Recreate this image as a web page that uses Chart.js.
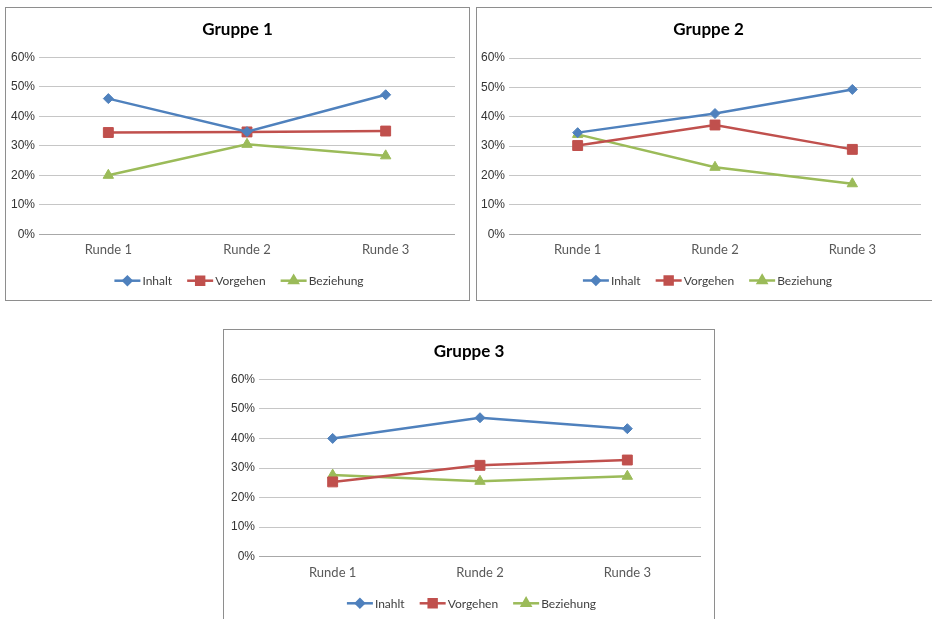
<!DOCTYPE html>
<html>
<head>
<meta charset="utf-8">
<script src="https://cdn.jsdelivr.net/npm/chart.js@4.4.1/dist/chart.umd.min.js"></script>
<style>
  html, body { margin: 0; padding: 0; background: #fff; }
  body { width: 932px; height: 619px; position: relative; overflow: hidden; }
  .box { position: absolute; border: 1px solid #8e8e8e; background: #fff; box-sizing: border-box; }
  .box canvas { display: block; }
</style>
</head>
<body>
<div class="box" id="box1" style="left:5px;top:7px;width:465px;height:294px"><canvas id="c1"></canvas></div>
<div class="box" id="box2" style="left:476px;top:7px;width:465px;height:294px"><canvas id="c2"></canvas></div>
<div class="box" id="box3" style="left:223px;top:329px;width:492px;height:294px"><canvas id="c3"></canvas></div>
<script>
// Rounds shown on the category axis
const rounds = ['Runde 1', 'Runde 2', 'Runde 3'];
// Y axis tick values (share of statements)
const yTicks = [0, 0.1, 0.2, 0.3, 0.4, 0.5, 0.6];

// Gruppe 1
const g1Inhalt    = [0.460, 0.348, 0.473];
const g1Vorgehen  = [0.345, 0.347, 0.350];
const g1Beziehung = [0.200, 0.305, 0.266];

// Gruppe 2
const g2Inhalt    = [0.346, 0.411, 0.493];
const g2Vorgehen  = [0.302, 0.372, 0.289];
const g2Beziehung = [0.340, 0.228, 0.172];

// Gruppe 3
const g3Inhalt    = [0.400, 0.470, 0.433];
const g3Vorgehen  = [0.253, 0.309, 0.327];
const g3Beziehung = [0.276, 0.255, 0.272];

const COLORS = { blue: '#4F81BD', red: '#C0504D', green: '#9BBB59' };
const MARKERS = {
  blue:  { style: 'rectRot', radius: 5 },
  red:   { style: 'rect', radius: 7 },
  green: { style: 'triangle', radius: 6 }
};

function series(label, data, key) {
  return {
    label, data,
    borderColor: COLORS[key],
    backgroundColor: COLORS[key],
    borderWidth: 2.5,
    pointStyle: MARKERS[key].style,
    pointRadius: MARKERS[key].radius,
    pointHoverRadius: MARKERS[key].radius,
    pointBorderWidth: 1,
    pointBorderColor: COLORS[key],
    pointBackgroundColor: COLORS[key],
    tension: 0,
    markerKey: key
  };
}

// Title and line-with-marker legend drawn on the chart canvas
const framePlugin = {
  id: 'frame',
  afterDraw(chart, args, opts) {
    const ctx = chart.ctx;
    const w = chart.width;
    ctx.save();
    ctx.fillStyle = '#000';
    ctx.font = 'bold 17px Lato';
    ctx.textAlign = 'center';
    ctx.textBaseline = 'middle';
    ctx.fillText(opts.title, w / 2 + (opts.titleDx || 0), opts.titleY);

    // legend
    ctx.font = '12px Lato';
    const lineLen = 26, gapText = 2, gapItem = 15;
    const items = chart.data.datasets.map(ds => ({
      ds, tw: ctx.measureText(ds.label).width
    }));
    let total = 0;
    items.forEach((it, i) => { total += lineLen + gapText + it.tw + (i < items.length - 1 ? gapItem : 0); });
    let x = w / 2 - total / 2 + (opts.legendDx || 0);
    const y = opts.legendY;
    items.forEach(it => {
      const ds = it.ds;
      ctx.strokeStyle = ds.borderColor;
      ctx.lineWidth = 2.5;
      ctx.beginPath();
      ctx.moveTo(x, y);
      ctx.lineTo(x + lineLen, y);
      ctx.stroke();
      ctx.fillStyle = ds.borderColor;
      const m = MARKERS[ds.markerKey];
      Chart.helpers.drawPoint(ctx, {
        pointStyle: m.style,
        radius: m.radius * 0.8,
        borderWidth: 1,
        rotation: 0
      }, x + lineLen / 2, y);
      ctx.fill();
      ctx.fillStyle = '#404040';
      ctx.textAlign = 'left';
      ctx.fillText(ds.label, x + lineLen + gapText, y + 0.5);
      x += lineLen + gapText + it.tw + gapItem;
    });
    ctx.restore();
  }
};

function makeChart(id, title, sets, geom) {
  const box = document.getElementById(id).parentElement;
  const cw = box.clientWidth, chh = box.clientHeight;
  const canvas = document.getElementById(id);
  canvas.width = cw; canvas.height = chh;
  canvas.style.width = cw + 'px'; canvas.style.height = chh + 'px';
  const xAxisH = 30;
  return new Chart(canvas, {
    type: 'line',
    data: { labels: rounds, datasets: sets },
    plugins: [framePlugin],
    options: {
      responsive: false,
      animation: false,
      devicePixelRatio: 1,
      layout: {
        padding: {
          left: 0,
          top: geom.top,
          right: cw - geom.right,
          bottom: chh - geom.bottom - xAxisH
        }
      },
      plugins: {
        legend: { display: false },
        title: { display: false },
        tooltip: { enabled: false },
        frame: { title, titleY: geom.titleY, legendY: geom.legendY, legendDx: geom.legendDx || 0 }
      },
      scales: {
        x: {
          type: 'category',
          offset: true,
          grid: { display: false, drawTicks: false },
          border: { display: false },
          ticks: { color: '#595959', font: { family: 'Lato', size: 13 }, padding: 8, maxRotation: 0 },
          afterFit(scale) { scale.height = xAxisH; }
        },
        y: {
          min: 0, max: 0.6,
          afterBuildTicks(scale) { scale.ticks = yTicks.map(v => ({ value: v })); },
          grid: {
            drawTicks: false,
            color: c => (c.tick && c.tick.value === 0) ? '#a8a8a8' : '#c6c6c6',
            lineWidth: 1
          },
          border: { display: false },
          ticks: {
            color: '#333',
            font: { family: 'Liberation Sans', size: 12 },
            padding: 4,
            callback: v => Math.round(v * 100) + '%'
          },
          afterFit(scale) { scale.width = geom.left; }
        }
      }
    }
  });
}

makeChart('c1', 'Gruppe 1', [
  series('Inhalt', g1Inhalt, 'blue'),
  series('Vorgehen', g1Vorgehen, 'red'),
  series('Beziehung', g1Beziehung, 'green')
], { left: 33, right: 449, top: 49.3, bottom: 226.3, titleY: 22, legendY: 272.7, legendDx: 1.5 });

makeChart('c2', 'Gruppe 2', [
  series('Inhalt', g2Inhalt, 'blue'),
  series('Vorgehen', g2Vorgehen, 'red'),
  series('Beziehung', g2Beziehung, 'green')
], { left: 32, right: 444, top: 50, bottom: 226.3, titleY: 22, legendY: 272.5, legendDx: -1 });

makeChart('c3', 'Gruppe 3', [
  series('Inahlt', g3Inhalt, 'blue'),
  series('Vorgehen', g3Vorgehen, 'red'),
  series('Beziehung', g3Beziehung, 'green')
], { left: 35, right: 477, top: 49.3, bottom: 226.7, titleY: 22, legendY: 273.3, legendDx: 2.5 });
</script>
</body>
</html>
